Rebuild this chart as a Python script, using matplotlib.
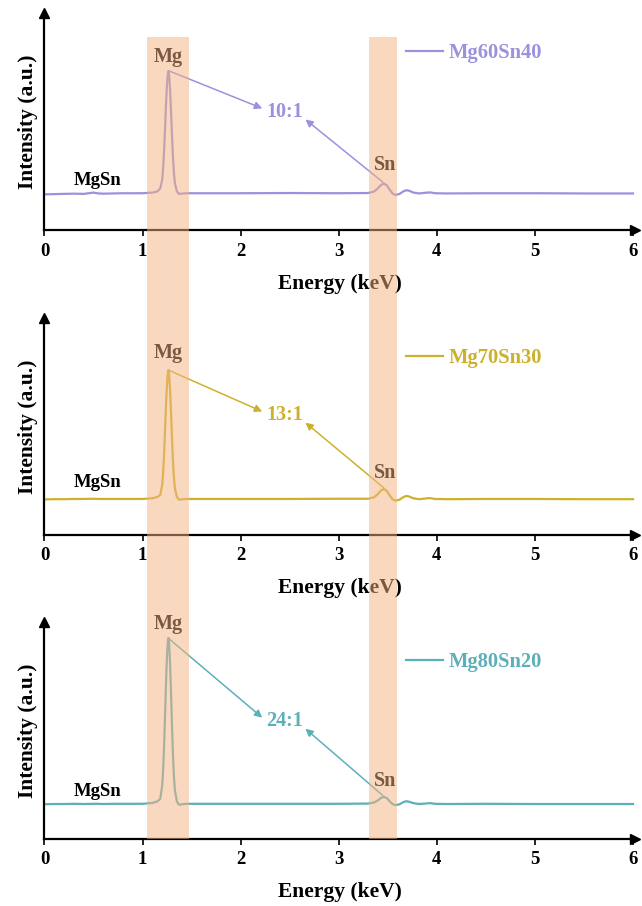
import numpy as np
import matplotlib.pyplot as plt
from matplotlib.patches import Rectangle
from matplotlib.transforms import blended_transform_factory

plt.rcParams['font.family'] = 'Liberation Serif'
plt.rcParams['font.weight'] = 'bold'

#-------------------------------------------------------------------------------
#DATA (intensity in axis fraction)

energy = [0.0, 0.1, 0.2, 0.3, 0.4, 0.5, 0.55, 0.6, 0.7, 0.8, 0.9,
          1.00, 1.10, 1.15, 1.18, 1.20, 1.21, 1.22, 1.23, 1.24, 1.25, 1.26,
          1.265, 1.27, 1.28, 1.29, 1.30, 1.31, 1.32, 1.33, 1.35, 1.37, 1.45,
          1.60, 2.00, 2.50, 3.00,
          3.30, 3.36, 3.40, 3.43, 3.46, 3.49, 3.52, 3.55, 3.58, 3.62, 3.66,
          3.69, 3.72, 3.76, 3.82, 3.88, 3.93, 3.98, 4.10,
          4.50, 5.00, 5.50, 6.00]

int_60 = [.165, .166, .167, .168, .167, .173, .169, .168, .169, .170, .170,
          .170, .173, .178, .192, .232, .288, .373, .480, .592, .682, .730,
          .733, .716, .649, .547, .435, .333, .260, .215, .178, .167, .170,
          .170, .170, .171, .170,
          .171, .178, .193, .208, .215, .206, .186, .168, .162, .167, .179,
          .184, .181, .173, .169, .172, .174, .170, .169,
          .170, .170, .169, .169]

int_70 = [.164, .165, .165, .166, .166, .167, .166, .166, .166, .166, .166,
          .166, .169, .175, .184, .231, .291, .380, .493, .612, .707, .757,
          .760, .742, .671, .564, .445, .338, .261, .214, .175, .163, .166,
          .166, .166, .166, .167,
          .167, .174, .189, .205, .212, .203, .182, .164, .158, .163, .175,
          .180, .177, .169, .165, .168, .170, .166, .165,
          .166, .166, .165, .165]

int_80 = [.160, .161, .161, .162, .161, .162, .162, .161, .162, .162, .162,
          .162, .166, .173, .185, .246, .322, .437, .582, .735, .857, .922,
          .926, .903, .811, .674, .521, .384, .284, .223, .173, .158, .162,
          .162, .162, .162, .162,
          .163, .168, .178, .189, .194, .188, .173, .160, .156, .160, .170,
          .174, .171, .165, .161, .163, .165, .162, .161,
          .162, .161, .161, .161]

samples = ['Mg60Sn40', 'Mg70Sn30', 'Mg80Sn20']
ratios = ['10:1', '13:1', '24:1']
colors = ['#9A92DC', '#CDB12C', '#5CB0BA']

#label / arrow positions (energy, intensity) per panel
mg_peak = [(1.263, 0.735), (1.263, 0.76), (1.263, 0.925)]
sn_peak = [(3.45, 0.221), (3.46, 0.217), (3.45, 0.20)]
ratio_pos = [(2.45, 0.545), (2.45, 0.553), (2.45, 0.543)]
mg_lab_y = [0.80, 0.84, 0.99]
sn_lab_y = [0.30, 0.285, 0.265]
mgsn_lab_y = [0.23, 0.24, 0.22]

#highlighted energy windows (keV)
bands = [(1.046, 1.474), (3.31, 3.59)]

#-------------------------------------------------------------------------------
#PLOT

fig = plt.figure(figsize=(6.42, 9.06), dpi=100)
bottoms = [0.746, 0.4095, 0.074]
series = [int_60, int_70, int_80]
axes = []

for i in range(3):
    ax = fig.add_axes([0.0693, bottoms[i], 0.9198, 0.2395])
    axes.append(ax)
    c = colors[i]
    ax.plot(energy, series[i], color=c, lw=1.6, label=samples[i])
    ax.set_xlim(0, 6.02)
    ax.set_ylim(0, 1)

    for s in ['top', 'right']:
        ax.spines[s].set_visible(False)
    for s in ['left', 'bottom']:
        ax.spines[s].set_linewidth(1.6)
    ax.plot(1, 0, '>k', ms=7, transform=ax.transAxes, clip_on=False)
    ax.plot(0, 1, '^k', ms=7, transform=ax.transAxes, clip_on=False)
    ax.set_yticks([])
    ax.set_xticks(range(7))
    ax.tick_params(axis='x', direction='out', length=4, width=1.2,
                   labelsize=13.5, pad=5)
    ax.set_xlabel('Energy (keV)', fontsize=15.5, fontweight='bold', labelpad=10)
    ax.set_ylabel('Intensity (a.u.)', fontsize=15.5, fontweight='bold', labelpad=5)

    #peak labels
    ax.text(1.26, mg_lab_y[i], 'Mg', fontsize=14.5, ha='center', va='center')
    ax.text(3.47, sn_lab_y[i], 'Sn', fontsize=14.5, ha='center', va='center')
    ax.text(0.54, mgsn_lab_y[i], 'MgSn', fontsize=13.5, ha='center', va='center')

    #ratio annotation with arrows
    rx, ry = ratio_pos[i]
    ax.text(rx, ry, ratios[i], fontsize=14.5, color=c, ha='center', va='center')
    ax.annotate('', xy=(rx - 0.23, ry + 0.016), xytext=mg_peak[i],
                arrowprops=dict(arrowstyle='-|>', color=c, lw=1.1,
                                mutation_scale=11, shrinkA=0, shrinkB=0))
    ax.annotate('', xy=(rx + 0.21, ry - 0.035), xytext=sn_peak[i],
                arrowprops=dict(arrowstyle='-|>', color=c, lw=1.1,
                                mutation_scale=11, shrinkA=0, shrinkB=0))

    ax.legend(loc='center left', bbox_to_anchor=(0.612, 0.816), frameon=False,
              borderpad=0, borderaxespad=0, handlelength=1.8,
              handletextpad=0.3, labelcolor='linecolor',
              prop={'weight': 'bold', 'size': 14.8})

#shaded energy windows running through all panels
trans = blended_transform_factory(axes[0].transData, fig.transFigure)
for x0, x1 in bands:
    fig.add_artist(Rectangle((x0, 0.074), x1 - x0, 0.9592 - 0.074,
                             transform=trans, facecolor=(0.96, 0.70, 0.51),
                             alpha=0.5, edgecolor='none', zorder=5))

plt.savefig('out.png', dpi=100)
